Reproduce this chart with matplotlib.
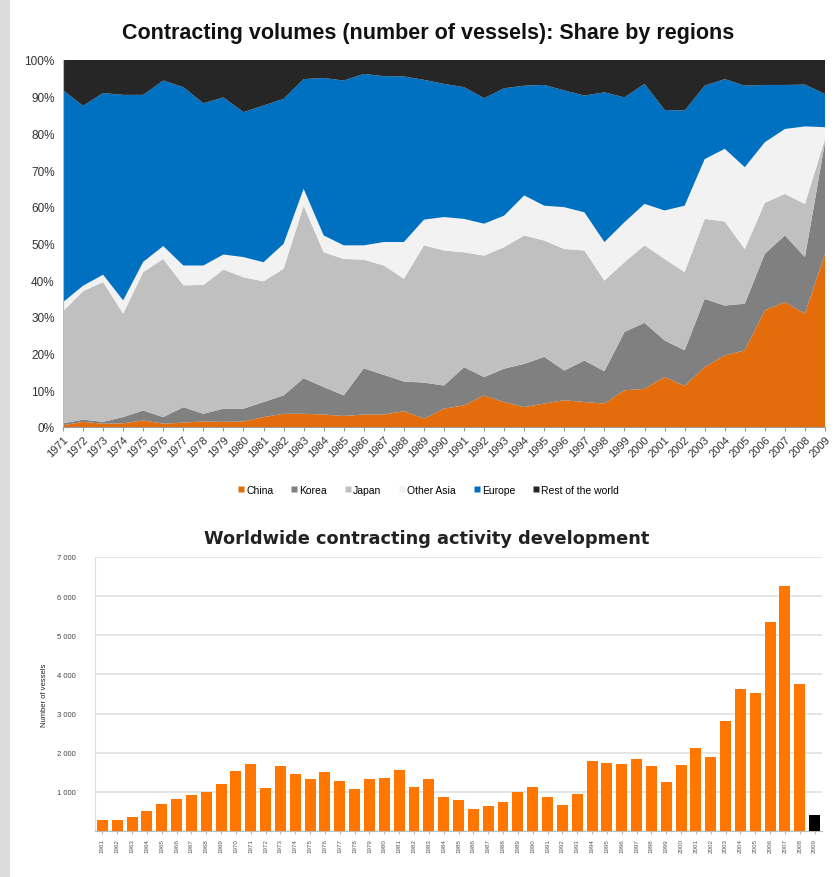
import matplotlib
matplotlib.use("Agg")
import matplotlib.pyplot as plt
from matplotlib.patches import Rectangle
from matplotlib.lines import Line2D
import numpy as np

plt.rcParams['font.family'] = ['Liberation Sans', 'DejaVu Sans']

# ---------------- data: top chart (share in %) ----------------
years_share = list(range(1971, 2010))
china = [0.5, 1.4, 0.9, 1.0, 1.8, 0.9, 1.2, 1.5, 1.4, 1.5, 2.7, 3.6, 3.6, 3.4, 3.0, 3.4, 3.4, 4.3, 2.3, 5.0,
         5.9, 8.6, 6.8, 5.4, 6.4, 7.3, 6.8, 6.4, 10.0, 10.4, 13.6, 11.2, 16.3, 19.5, 20.9, 31.8, 34.0, 30.9, 47.2]
korea = [0.5, 0.6, 0.5, 1.7, 2.7, 1.8, 4.2, 2.1, 3.6, 3.5, 4.1, 5.0, 9.7, 7.5, 5.6, 12.6, 10.8, 8.1, 9.8, 6.3,
         10.4, 5.0, 9.1, 11.8, 12.7, 8.1, 11.3, 8.8, 15.9, 18.0, 10.0, 9.7, 18.6, 13.6, 12.7, 15.4, 18.2, 15.4, 30.4]
japan = [30.5, 35.0, 38.1, 28.2, 37.7, 43.1, 33.2, 35.1, 37.9, 35.8, 32.9, 34.5, 47.0, 36.7, 37.2, 29.6, 29.8, 28.0, 37.4, 36.8,
         31.3, 33.1, 33.1, 35.0, 31.7, 33.1, 30.0, 24.7, 19.0, 21.1, 22.2, 21.3, 21.8, 22.9, 14.9, 13.9, 11.3, 14.5, 0.9]
other_asia = [2.5, 1.5, 2.0, 3.6, 2.8, 3.5, 5.4, 5.3, 4.1, 5.5, 5.2, 6.8, 4.6, 4.6, 3.7, 3.9, 6.4, 10.0, 7.0, 9.1,
              9.1, 8.7, 8.6, 10.9, 9.5, 11.4, 10.4, 10.5, 10.9, 11.3, 13.2, 18.1, 16.3, 19.8, 22.3, 16.5, 17.7, 21.1, 3.2]
europe = [57.8, 49.0, 49.5, 56.0, 45.5, 45.1, 48.6, 44.2, 42.8, 39.5, 42.7, 39.5, 29.9, 42.9, 44.9, 46.7, 45.2, 45.1, 38.1, 36.3,
          35.9, 34.2, 34.7, 29.9, 32.9, 31.8, 31.8, 40.8, 34.0, 32.7, 27.4, 25.9, 20.0, 19.0, 22.2, 15.6, 12.0, 11.4, 9.0]
rest_world = [8.2, 12.5, 9.0, 9.5, 9.5, 5.6, 7.4, 11.8, 10.2, 14.2, 12.4, 10.6, 5.2, 4.9, 5.6, 3.8, 4.4, 4.5, 5.4, 6.5,
              7.4, 10.4, 7.7, 7.0, 6.8, 8.3, 9.7, 8.8, 10.2, 6.5, 13.6, 13.8, 7.0, 5.2, 7.0, 6.8, 6.8, 6.7, 9.3]
region_names = ["China", "Korea", "Japan", "Other Asia", "Europe", "Rest of the world"]
region_colors = ["#E46C0A", "#808080", "#C0C0C0", "#F2F2F2", "#0070C0", "#262626"]

# ---------------- data: bottom chart (number of vessels) ----------------
years_count = list(range(1961, 2010))
vessels = [280, 280, 370, 500, 700, 810, 920, 1000, 1200, 1540, 1720, 1100, 1670, 1460, 1330, 1510, 1270, 1070, 1330, 1350,
           1550, 1120, 1330, 860, 780, 570, 630, 730, 990, 1120, 860, 670, 940, 1800, 1730, 1700, 1840, 1650, 1250, 1690,
           2130, 1890, 2800, 3630, 3530, 5330, 6260, 3760, 400]

W, H = 839, 878
fig = plt.figure(figsize=(W / 100, H / 100), dpi=100)
fig.patch.set_facecolor("white")
# light grey border strip at left
fig.add_artist(Rectangle((0, 0), 10 / W, 1, transform=fig.transFigure, facecolor="#DCDCDC", edgecolor="none"))

# ---------------- top chart ----------------
ax1 = fig.add_axes([63 / W, 1 - 428 / H, (825 - 63) / W, (428 - 61) / H])
ax1.stackplot(years_share, china, korea, japan, other_asia, europe, rest_world,
              colors=region_colors, linewidth=0)
ax1.set_xlim(1971, 2009)
ax1.set_ylim(0, 100)
ax1.set_yticks(range(0, 101, 10))
ax1.set_yticklabels([f"{v}%" for v in range(0, 101, 10)], fontsize=8.5, color="#333333")
ax1.set_xticks(years_share)
ax1.set_xticklabels([str(y) for y in years_share], rotation=45, ha="right", rotation_mode="anchor",
                    fontsize=8, color="#333333")
ax1.tick_params(axis="y", length=0, pad=6)
ax1.tick_params(axis="x", length=3, color="#999999", pad=2)
for s in ["top", "right"]:
    ax1.spines[s].set_visible(False)
ax1.spines["left"].set_color("#BBBBBB")
ax1.spines["bottom"].set_color("#999999")
fig.text(428 / W, 1 - 33 / H, "Contracting volumes (number of vessels): Share by regions",
         ha="center", va="center", fontsize=15.5, fontweight="bold", color="#111111")

handles = [Line2D([], [], marker="s", linestyle="none", markersize=5, markerfacecolor=c,
                  markeredgecolor="none") for c in region_colors]
fig.legend(handles, region_names, loc="center", bbox_to_anchor=(428 / W, 1 - 491 / H), ncol=6,
           frameon=False, fontsize=7.5, handletextpad=0.1, columnspacing=1.6, handlelength=0.8)

# ---------------- bottom chart ----------------
ax2 = fig.add_axes([95 / W, 1 - 832 / H, (822 - 95) / W, (832 - 558) / H])
x = np.arange(len(years_count))
bar_colors = ["#FF7700"] * (len(years_count) - 1) + ["#000000"]
ax2.bar(x, vessels, width=0.74, color=bar_colors, zorder=3)
ax2.set_xlim(-0.5, len(years_count) - 0.5)
ax2.set_ylim(0, 7000)
ax2.set_yticks(range(1000, 7001, 1000))
ax2.set_yticklabels([f"{v // 1000} 000" for v in range(1000, 7001, 1000)], fontsize=5.5, color="#444444")
ax2.yaxis.grid(True, color="#E0E0E0", linewidth=1.2, zorder=0)
ax2.set_xticks(x)
ax2.set_xticklabels([str(y) for y in years_count], rotation=90, fontsize=4.5, color="#555555")
ax2.tick_params(axis="y", length=0, pad=14)
ax2.tick_params(axis="x", length=2, color="#BBBBBB", pad=3)
for s in ["top", "right"]:
    ax2.spines[s].set_visible(False)
ax2.spines["left"].set_color("#DDDDDD")
ax2.spines["bottom"].set_color("#BBBBBB")
ax2.set_ylabel("Number of vessels", fontsize=5.5, color="#222222", labelpad=6)
fig.text(427 / W, 1 - 539 / H, "Worldwide contracting activity development",
         ha="center", va="center", fontsize=12.8, fontweight="bold", color="#222222",
         family=["DejaVu Sans"])

fig.savefig("out.png", dpi=100, facecolor="white")
